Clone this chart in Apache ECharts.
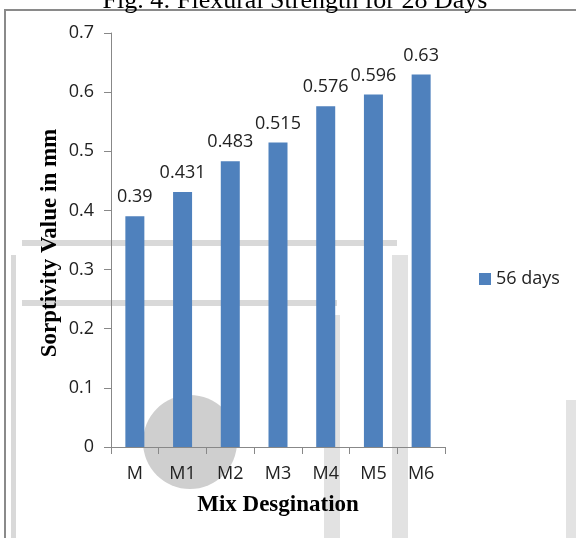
<!DOCTYPE html>
<html><head><meta charset="utf-8">
<script src="https://cdn.jsdelivr.net/npm/echarts@6/dist/echarts.min.js"></script>
<style>html,body{margin:0;padding:0;background:#fff}#c{width:576px;height:538px}</style>
</head><body><div id="c"></div>
<script>
var categories = ['M','M1','M2','M3','M4','M5','M6'];
var values56 = [0.39,0.431,0.483,0.515,0.576,0.596,0.63];
var seriesName = '56 days';
var yTicks = [0,0.1,0.2,0.3,0.4,0.5,0.6,0.7];
var titleText = 'Fig. 4: Flexural Strength for 28 Days';
var xName = 'Mix Desgination';
var yName = 'Sorptivity Value in mm';

var chart = echarts.init(document.getElementById('c'));
var lab = "'Open Sans','Liberation Sans',sans-serif";
var serif = "'Liberation Serif','Times New Roman',serif";
chart.setOption({
  animation:false,
  graphic:[
    {type:'rect',z:-10,shape:{x:5,y:10,width:600,height:560},style:{fill:'none',stroke:'#8a8a8a',lineWidth:2}},
    {type:'circle',z:-9,shape:{cx:190,cy:442,r:47},style:{fill:'#cfcfcf'}},
    {type:'rect',z:-9,shape:{x:22,y:240,width:375,height:6},style:{fill:'#d9d9d9'}},
    {type:'rect',z:-9,shape:{x:22,y:300,width:315,height:6},style:{fill:'#d9d9d9'}},
    {type:'rect',z:-9,shape:{x:11,y:255,width:5,height:290},style:{fill:'#d9d9d9'}},
    {type:'rect',z:-9,shape:{x:392,y:255,width:16,height:290},style:{fill:'#e2e2e2'}},
    {type:'rect',z:-9,shape:{x:324,y:315,width:16,height:230},style:{fill:'#e2e2e2'}},
    {type:'rect',z:-9,shape:{x:566,y:400,width:10,height:140},style:{fill:'#e3e3e3'}},
    {type:'text',z:5,style:{text:titleText,x:295,y:1,textAlign:'center',textVerticalAlign:'middle',
      font:'normal 26px '+serif,fill:'#000'}},
    {type:'text',z:5,rotation:Math.PI/2,x:50,y:243,style:{text:yName,x:0,y:0,textAlign:'center',textVerticalAlign:'middle',
      font:'bold 23px '+serif,fill:'#000'}}
  ],
  legend:{data:[seriesName],left:474,top:265,orient:'vertical',itemWidth:12,itemHeight:12,itemGap:6,
    textStyle:{fontFamily:lab,fontSize:18,color:'#222'},icon:'rect'},
  grid:{left:111,right:131,top:33,bottom:91,containLabel:false},
  xAxis:{type:'category',data:categories,name:xName,nameLocation:'middle',nameGap:47,
    nameTextStyle:{fontFamily:serif,fontWeight:'bold',fontSize:23,color:'#000'},
    axisLine:{lineStyle:{color:'#888',width:1}},
    axisTick:{show:true,alignWithLabel:false,length:7,lineStyle:{color:'#888'}},
    axisLabel:{fontFamily:lab,fontSize:18,color:'#222',margin:18}},
  yAxis:{type:'value',min:0,max:0.7,interval:0.1,
    axisLine:{show:true,lineStyle:{color:'#888',width:1}},
    axisTick:{show:true,length:7,lineStyle:{color:'#888'}},
    splitLine:{show:false},
    axisLabel:{fontFamily:lab,fontSize:18,color:'#222',margin:17,
      formatter:function(v){var i=yTicks.indexOf(Math.round(v*10)/10);return i>=0?String(yTicks[i]):'';}}},
  series:[{name:seriesName,type:'bar',data:values56,barWidth:19,
    itemStyle:{color:'#4f81bd'},
    label:{show:true,position:'top',distance:10,fontFamily:lab,fontSize:18,color:'#222'}}]
});
</script></body></html>
